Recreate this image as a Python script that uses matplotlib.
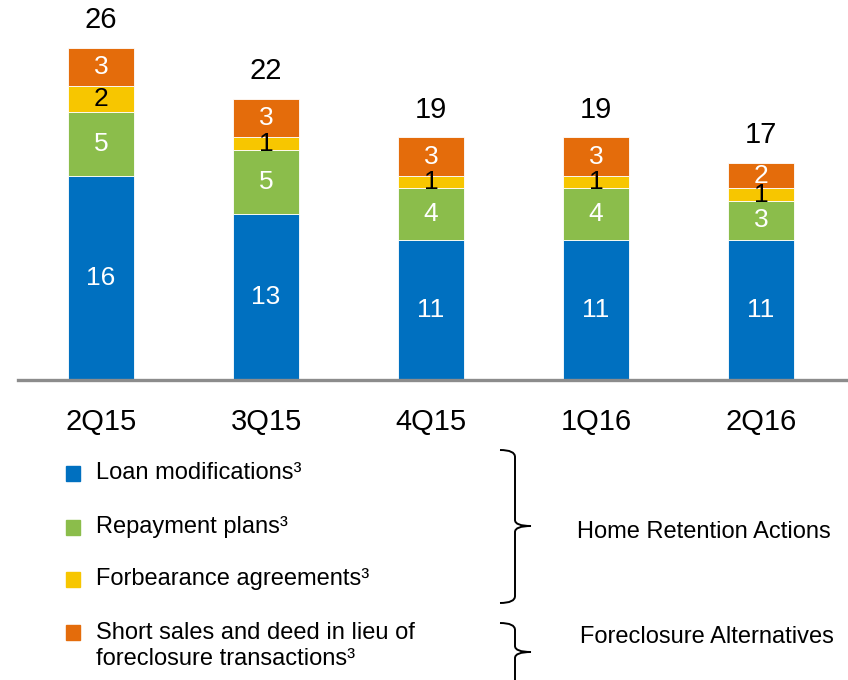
import matplotlib
matplotlib.use("Agg")
import matplotlib.pyplot as plt
from matplotlib.patches import Rectangle
from matplotlib.path import Path
from matplotlib.patches import PathPatch
import numpy as np

plt.rcParams['font.family'] = ['Liberation Sans', 'DejaVu Sans']

quarters = ["2Q15", "3Q15", "4Q15", "1Q16", "2Q16"]
loan_mods = [16, 13, 11, 11, 11]
repayment = [5, 5, 4, 4, 3]
forbearance = [2, 1, 1, 1, 1]
short_sales = [3, 3, 3, 3, 2]
totals = [26, 22, 19, 19, 17]

series = [loan_mods, repayment, forbearance, short_sales]
colors = ["#0070C0", "#8BBD4B", "#F7C600", "#E46C0B"]
label_colors = ["white", "white", "black", "white"]
legend_labels = ["Loan modifications\u00b3", "Repayment plans\u00b3",
                 "Forbearance agreements\u00b3",
                 "Short sales and deed in lieu of\nforeclosure transactions\u00b3"]

W, H = 848, 680
fig = plt.figure(figsize=(W / 100, H / 100), dpi=100)

# main bar axes (pixel layout: baseline at y=380, bars 165 px apart)
left_px, base_px = 18, 380
ax = fig.add_axes([left_px / W, 1 - base_px / H, (W - left_px) / W, base_px / H])
x = np.arange(len(quarters))
bottom = np.zeros(len(quarters))
for vals, c, lc in zip(series, colors, label_colors):
    ax.bar(x, vals, width=0.405, bottom=bottom, color=c, edgecolor="white", linewidth=0.6)
    for xi, b, v in zip(x, bottom, vals):
        ax.text(xi, b + v / 2, str(v), ha="center", va="center", color=lc, fontsize=19)
    bottom = bottom + np.array(vals)

for xi, t in zip(x, totals):
    ax.annotate(str(t), (xi, t), xytext=(0, 20), textcoords="offset points",
                ha="center", va="center", fontsize=21, color="black")

ax.set_xlim((left_px - 101) / 165, (W - 101) / 165)
ax.set_ylim(0, base_px / 12.77)
for s in ["top", "right", "left"]:
    ax.spines[s].set_visible(False)
ax.spines["bottom"].set_color("#8C8C8C")
ax.spines["bottom"].set_linewidth(2.4)
ax.set_yticks([])
ax.set_xticks(x)
ax.set_xticklabels(quarters, fontsize=21)
ax.tick_params(axis="x", length=0, pad=20)

# overlay for legend and brackets, in pixel coords
ov = fig.add_axes([0, 0, 1, 1])
ov.set_xlim(0, W)
ov.set_ylim(H, 0)
ov.axis("off")

legend_y = [473, 527, 579, 646]
for c, lab, y in zip(colors, legend_labels, legend_y):
    sq_y = y if "\n" not in lab else 632
    ov.add_patch(Rectangle((66, sq_y - 7.5), 14, 15, color=c))
    ov.text(96, y, lab, ha="left", va="center", fontsize=17, linespacing=1.2)


def brace(x0, top, bottom, tip):
    xv = x0 + 15
    verts = [(x0, top), (xv, top), (xv, top + 7),
             (xv, tip - 6), (xv, tip), (xv + 16, tip),
             (xv, tip), (xv, tip + 6),
             (xv, bottom - 7), (xv, bottom), (x0, bottom)]
    codes = [Path.MOVETO, Path.CURVE3, Path.CURVE3,
             Path.LINETO, Path.CURVE3, Path.CURVE3,
             Path.CURVE3, Path.CURVE3,
             Path.LINETO, Path.CURVE3, Path.CURVE3]
    ov.add_patch(PathPatch(Path(verts, codes), fill=False, lw=1.4, color="black"))


brace(500, 450, 603, 526)
brace(500, 623, 692, 652)
ov.text(577, 532, "Home Retention Actions", ha="left", va="center", fontsize=17)
ov.text(580, 637, "Foreclosure Alternatives", ha="left", va="center", fontsize=17)

fig.savefig("out.png", dpi=100)
